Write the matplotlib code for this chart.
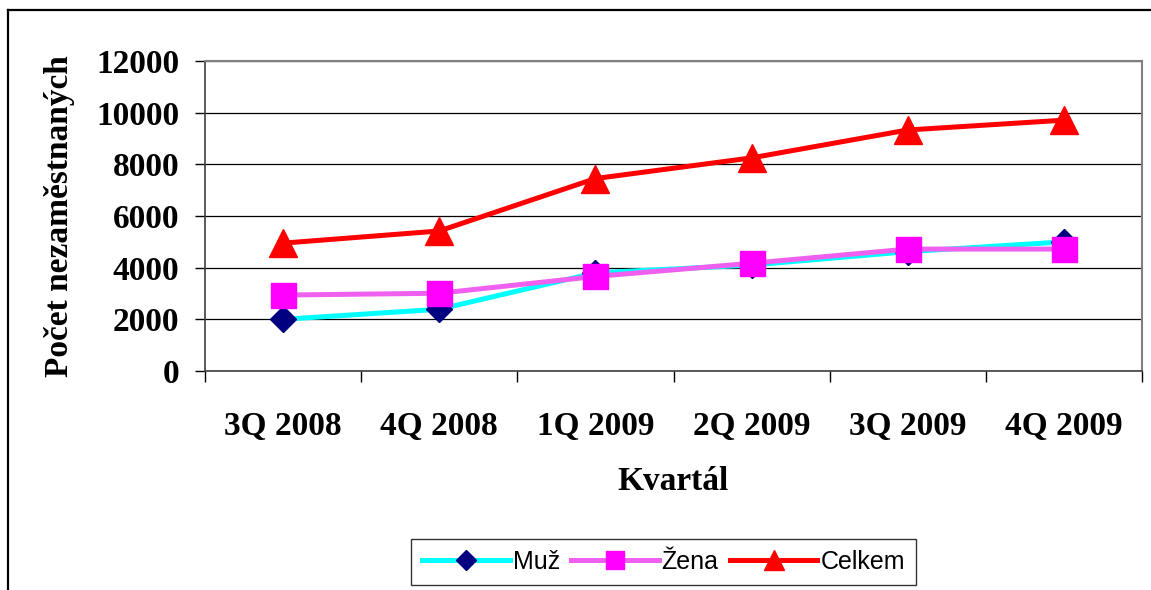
import matplotlib
matplotlib.use("Agg")
import matplotlib.pyplot as plt
from matplotlib.lines import Line2D
from matplotlib.ticker import FixedLocator

categories = ["3Q 2008", "4Q 2008", "1Q 2009", "2Q 2009", "3Q 2009", "4Q 2009"]
muz = [2000, 2390, 3800, 4100, 4620, 5000]
zena = [2940, 3010, 3660, 4170, 4720, 4720]
celkem = [4950, 5420, 7450, 8250, 9330, 9710]
yticks = [0, 2000, 4000, 6000, 8000, 10000, 12000]

W, H = 1151, 590
fig = plt.figure(figsize=(W / 100, H / 100), dpi=100)
fig.patch.set_facecolor("white")

# outer chart frame (left and top edges visible)
fig.add_artist(Line2D([8 / W, 8 / W], [0, 1 - 10 / H], color="black", lw=1.6, transform=fig.transFigure))
fig.add_artist(Line2D([8 / W, 1], [1 - 10 / H, 1 - 10 / H], color="black", lw=1.6, transform=fig.transFigure))

left, right, top, bottom = 205, 1142, 61, 371
ax = fig.add_axes([left / W, 1 - bottom / H, (right - left) / W, (bottom - top) / H])

x = list(range(len(categories)))
serif = "Liberation Serif"
fs = 24

ax.plot(x, muz, color="#00FFFF", lw=3.6, marker="D", ms=13.5, mfc="#000080", mec="#000080", zorder=3, label="Muž")
ax.plot(x, zena, color="#F060F0", lw=3.6, marker="s", ms=18, mfc="#FF00FF", mec="#FF00FF", zorder=4, label="Žena")
ax.plot(x, celkem, color="#FF0000", lw=3.6, marker="^", ms=20, mfc="#FF0000", mec="#FF0000", zorder=5, label="Celkem")

ax.set_xlim(-0.5, len(categories) - 0.5)
ax.set_ylim(0, 12000)
ax.set_yticks(yticks)
ax.set_yticklabels([str(v) for v in yticks], fontfamily=serif, fontweight="bold", fontsize=fs)
ax.set_xticks(x)
ax.set_xticklabels(categories, fontfamily=serif, fontweight="bold", fontsize=fs)
ax.xaxis.set_minor_locator(FixedLocator([i - 0.5 for i in range(len(categories) + 1)]))
ax.tick_params(axis="x", which="major", length=0, pad=29)
ax.tick_params(axis="x", which="minor", length=8, width=1, direction="out", color="black")
ax.tick_params(axis="y", length=7.5, width=1, direction="out", color="black", pad=11)

ax.grid(axis="y", color="black", lw=0.9, zorder=1)
ax.set_axisbelow(True)
for s in ["top", "right"]:
    ax.spines[s].set_color("#808080")
    ax.spines[s].set_linewidth(1.5)
ax.spines["left"].set_color("#404040")
ax.spines["left"].set_linewidth(1.2)
ax.spines["bottom"].set_color("#404040")
ax.spines["bottom"].set_linewidth(1.2)

ax.set_xlabel("Kvartál", fontfamily=serif, fontweight="bold", fontsize=fs, labelpad=17)
ax.set_ylabel("Počet nezaměstnaných", fontfamily=serif, fontweight="bold", fontsize=fs, labelpad=15)

leg = fig.legend(loc="center", bbox_to_anchor=(663.5 / W, 1 - 562 / H), ncol=3,
                 prop={"family": "Liberation Sans", "size": 18}, frameon=True,
                 fancybox=False, edgecolor="black", handlelength=3.5, handletextpad=0.12,
                 columnspacing=0.45, borderpad=0.45, markerscale=0.72)
leg.get_frame().set_linewidth(1.0)

fig.savefig("out.png", dpi=100)
